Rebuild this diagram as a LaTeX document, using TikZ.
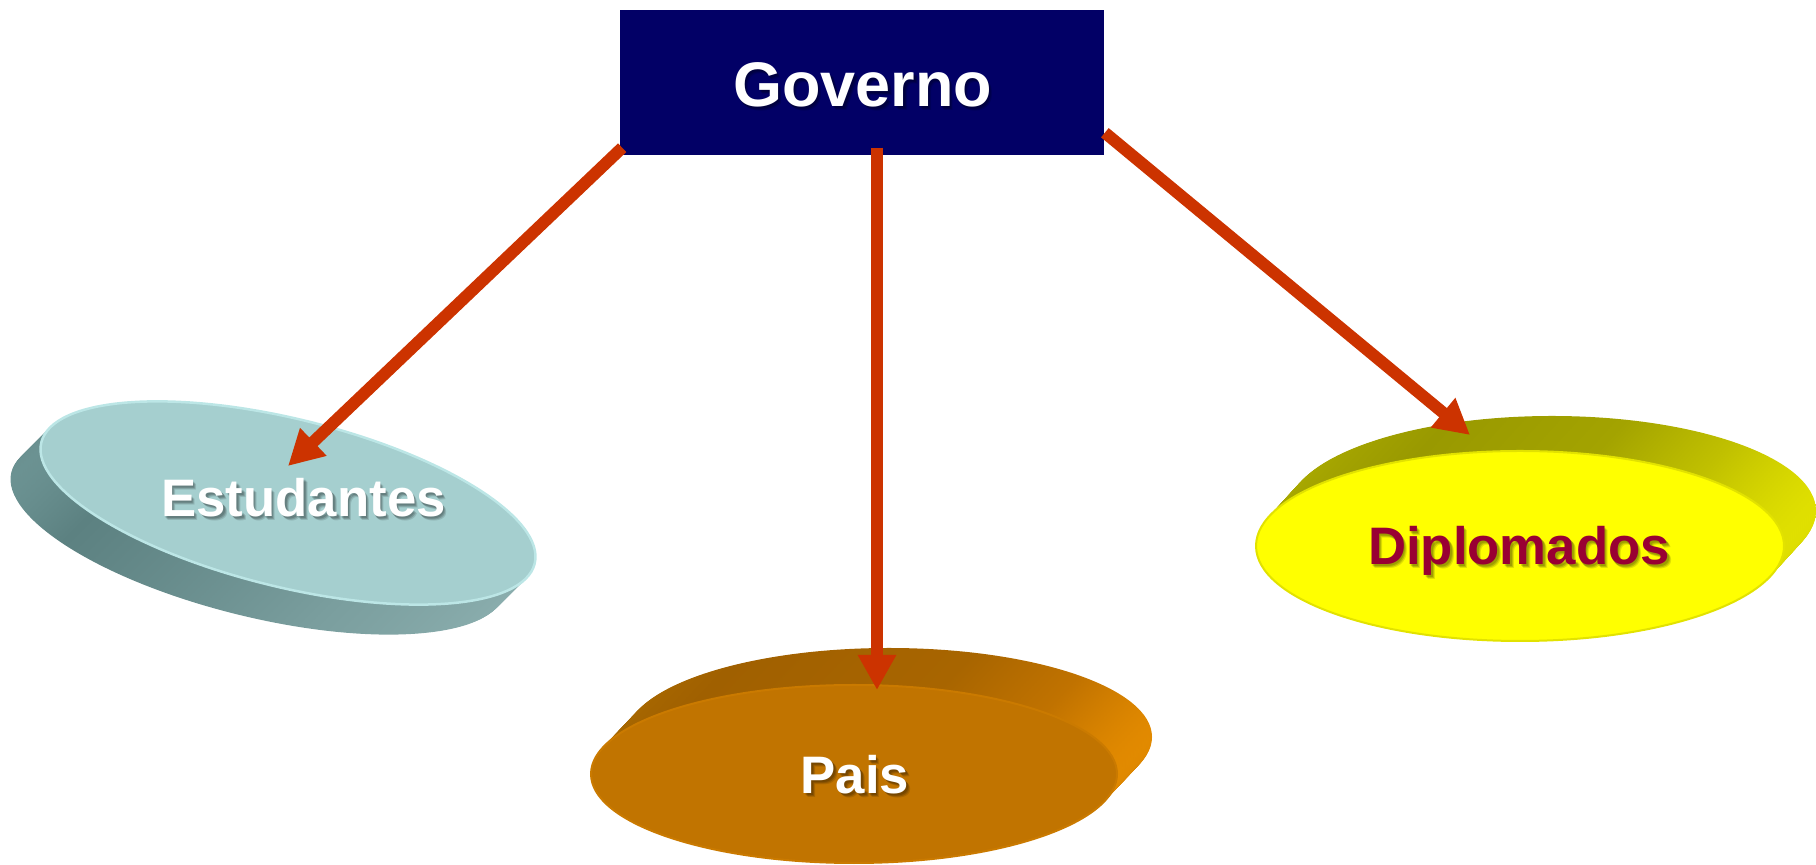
\documentclass[tikz,border=0pt]{standalone}
\usepackage{fontspec}
\setmainfont{Liberation Sans}
\usetikzlibrary{arrows.meta,calc}

\definecolor{govblue}{HTML}{020066}
\definecolor{arrowred}{HTML}{CC3300}
\definecolor{estTop}{HTML}{A5CFCF}
\definecolor{estRim}{HTML}{BCE6E6}
\definecolor{estSideA}{HTML}{6E9595}
\definecolor{estSideB}{HTML}{5C8181}
\definecolor{estSideC}{HTML}{7A9E9E}
\definecolor{estSideD}{HTML}{8CAFAF}
\definecolor{paisTop}{HTML}{C17400}
\definecolor{paisRim}{HTML}{CA7A00}
\definecolor{paisSideA}{HTML}{A86800}
\definecolor{paisSideB}{HTML}{A06000}
\definecolor{paisSideC}{HTML}{A86500}
\definecolor{paisSideD}{HTML}{C07200}
\definecolor{paisSideE}{HTML}{E28A00}
\definecolor{dipTop}{HTML}{FFFF00}
\definecolor{dipRim}{HTML}{E2E200}
\definecolor{dipSideA}{HTML}{AAAA00}
\definecolor{dipSideB}{HTML}{999900}
\definecolor{dipSideC}{HTML}{A3A300}
\definecolor{dipSideD}{HTML}{C0C000}
\definecolor{dipSideE}{HTML}{E0E000}
\definecolor{dipText}{HTML}{990033}

% side shadings: colour runs from left (25bp) to right (75bp) of the shape
\pgfdeclarehorizontalshading{estside}{100bp}{color(0bp)=(estSideA);
  color(25bp)=(estSideA); color(31bp)=(estSideB); color(55bp)=(estSideC);
  color(75bp)=(estSideD); color(100bp)=(estSideD)}
\pgfdeclarehorizontalshading{paisside}{100bp}{color(0bp)=(paisSideA);
  color(25bp)=(paisSideA); color(35bp)=(paisSideB); color(58bp)=(paisSideC);
  color(68bp)=(paisSideD); color(75bp)=(paisSideE); color(100bp)=(paisSideE)}
\pgfdeclarehorizontalshading{dipside}{100bp}{color(0bp)=(dipSideA);
  color(25bp)=(dipSideA); color(40bp)=(dipSideB); color(57bp)=(dipSideC);
  color(67bp)=(dipSideD); color(75bp)=(dipSideE); color(100bp)=(dipSideE)}

% A flat disc seen in perspective: the side is swept by stacking copies of
% the face from the offset (#6,#7) back to the face itself.
% #1,#2 centre  #3,#4 radii  #5 tilt  #6,#7 depth offset  #8 side  #9 face
\newcommand\drawdisc[9]{%
  \foreach \k in {0,...,48}{%
    \pgfmathsetmacro\f{1-\k/48}%
    \shade[#8, shift={(\f*#6,\f*#7)}, rotate around={#5:(#1,#2)}]
      (#1,#2) ellipse [x radius=#3, y radius=#4];
  }%
  \filldraw[#9, rotate around={#5:(#1,#2)}]
    (#1,#2) ellipse [x radius=#3, y radius=#4];
}

% soft drop shadow under a label: #1 style, #2,#3 base point, #4 text, #5 name
\newcommand\castshadow[5]{%
  \foreach \s/\o in {1.5/0.16, 2.5/0.16, 3.5/0.12}{%
    \node[#1, text=black, text opacity=\o] (#5-\s) at (#2+\s,#3+\s) {#4};
  }%
}

\begin{document}
\begin{tikzpicture}[x=0.01cm, y=-0.01cm,
  arr/.style={draw=arrowred, line width=0.12cm,
    -{Triangle[length=0.35cm, width=0.36cm]}},
  lbl/.style={font=\fontsize{15pt}{18pt}\selectfont\bfseries,
    inner sep=0pt, anchor=base},
  biglbl/.style={font=\fontsize{17.9pt}{21pt}\selectfont\bfseries,
    inner sep=0pt, anchor=base}]

\useasboundingbox (0,0) rectangle (1816,865);

% discs
\drawdisc{288}{503}{254}{84}{-13.8}{-30}{30}
  {shading=estside}
  {fill=estTop, draw=estRim, line width=0.025cm}
\drawdisc{854}{774}{263}{89}{0}{35}{-37}
  {shading=paisside}
  {fill=paisTop, draw=paisRim, line width=0.02cm}
\drawdisc{1520}{546}{264}{95}{0}{32}{-35}
  {shading=dipside}
  {fill=dipTop, draw=dipRim, line width=0.02cm}

% Governo box
\node[fill=govblue, minimum width=4.84cm, minimum height=1.45cm,
  inner sep=0pt] (gov) at (862,82.5) {};
\castshadow{biglbl}{862.5}{107}{Governo}{gov-sh}
\node[biglbl, text=white] (gov-txt) at (862.5,107) {Governo};

% labels with their drop shadows
\castshadow{lbl}{303.5}{517}{Estudantes}{est-sh}
\node[lbl, text=white] (est) at (303.5,517) {Estudantes};
\castshadow{lbl}{855}{794}{Pais}{pais-sh}
\node[lbl, text=white] (pais) at (855,794) {Pais};
\castshadow{lbl}{1519}{565}{Diplomados}{dip-sh}
\node[lbl, text=dipText] (dip) at (1519,565) {Diplomados};

% connectors
\draw[arr] ($(gov.south west)+(3,-8)$) -- ($(est.base)+(-15.5,-51)$);
\draw[arr] ($(gov.south)+(15,-8)$) -- ($(pais.base)+(22,-104)$);
\draw[arr] ($(gov.south east)+(0,-23)$) -- ($(dip.base)+(-49,-130)$);
\end{tikzpicture}
\end{document}
